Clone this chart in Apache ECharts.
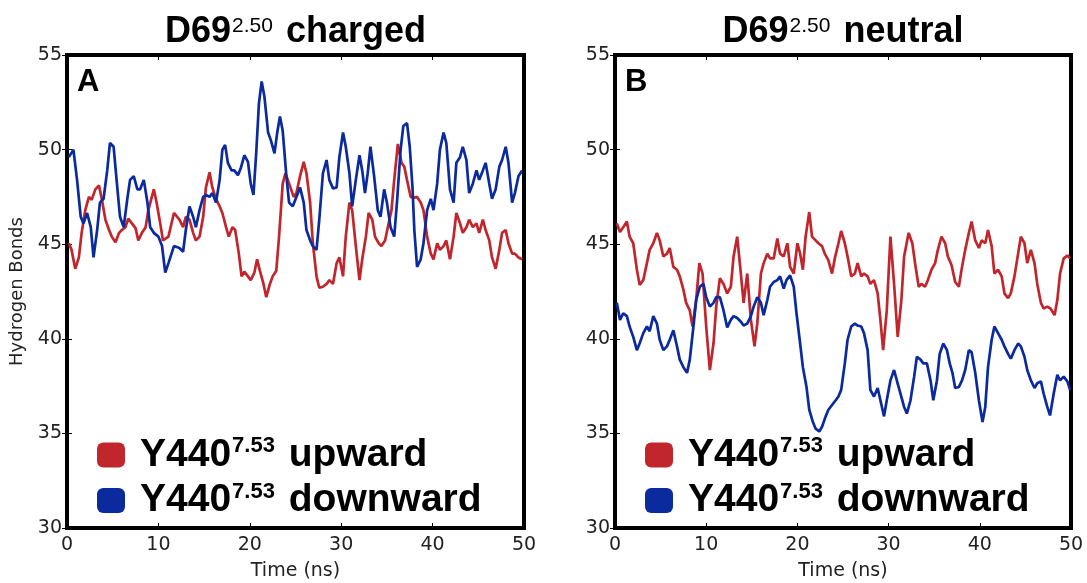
<!DOCTYPE html>
<html>
<head>
<meta charset="utf-8">
<script src="https://cdn.jsdelivr.net/npm/echarts@6/dist/echarts.min.js"></script>
<style>html,body{margin:0;padding:0;background:#fff}#c{width:1087px;height:583px}</style>
</head>
<body>
<div id="c"></div>
<script>
// ---- Data ----
const xTicks = [0, 10, 20, 30, 40, 50];
const yTicks = [30, 35, 40, 45, 50, 55];
const panelTitles = [["D69", "2.50", " charged"], ["D69", "2.50", " neutral"]];
const panelLetters = ["A", "B"];
const seriesNames = ["Y440 upward", "Y440 downward"];
const legendParts = [["Y440", "7.53", " upward"], ["Y440", "7.53", " downward"]];

// Panel A, upward (red)
const tA_up = [0.2,0.5,0.9,1.3,1.6,2.0,2.4,2.7,3.1,3.5,3.8,4.2,4.6,4.9,5.3,5.7,6.0,6.4,6.7,7.1,7.5,7.8,8.2,8.6,8.9,9.5,9.8,10.2,10.5,11.1,11.7,12.3,12.7,13.0,13.4,13.8,14.1,14.5,14.9,15.2,15.6,15.9,16.3,16.7,17.0,17.4,17.7,18.1,18.4,18.8,19.1,19.4,19.8,20.1,20.5,20.8,21.1,21.5,21.8,22.2,22.5,22.9,23.2,23.6,23.9,24.3,24.8,25.1,25.5,25.9,26.2,26.6,26.9,27.3,27.6,28.0,28.4,28.7,29.1,29.5,29.8,30.2,30.5,30.9,31.2,31.6,32.0,32.3,32.7,33.0,33.4,33.7,34.1,34.4,34.8,35.1,35.5,35.8,36.2,36.6,36.9,37.2,37.6,37.9,38.3,38.7,39.0,39.4,39.8,40.1,40.5,40.8,41.2,41.5,41.9,42.3,42.6,43.0,43.3,43.7,44.0,44.4,44.8,45.1,45.5,45.8,46.2,46.5,46.9,47.3,47.6,48.0,48.3,48.7,49.0,49.4,49.8];
const vA_up = [45.05,44.7,43.7,44.3,45.6,46.8,47.5,47.35,47.9,48.1,47.4,46.3,45.75,45.4,45.1,45.6,45.75,45.9,46.35,46.1,45.85,45.2,45.6,45.9,46.8,47.9,47.2,46.1,45.2,45.4,46.65,46.3,45.9,46.45,46.3,45.6,45.2,45.4,46.45,48.0,48.8,48.0,47.4,47.0,46.65,45.9,45.4,45.9,45.75,44.5,43.3,43.55,43.3,43.1,43.5,44.2,43.6,42.9,42.2,42.9,43.3,43.6,45.4,48.2,48.75,48.2,47.5,47.7,48.6,49.35,48.75,47.2,45.05,43.3,42.7,42.75,42.9,43.1,42.9,44.0,44.3,43.3,45.4,47.2,46.8,44.9,43.1,44.2,45.4,46.65,46.3,45.4,45.05,44.9,45.2,45.9,46.8,48.4,50.3,49.3,49.1,48.4,47.5,47.45,47.5,47.2,46.8,45.4,44.5,44.2,45.05,44.7,44.9,45.2,44.2,45.4,46.65,46.1,45.6,45.9,46.3,45.9,46.1,45.6,46.3,45.75,45.2,44.3,43.7,44.7,45.6,45.75,45.05,44.5,44.5,44.3,44.2];

// Panel A, downward (blue)
const tA_down = [0.2,0.7,1.1,1.5,1.8,2.2,2.6,2.9,3.3,3.6,4.0,4.4,4.7,5.1,5.5,5.8,6.2,6.6,6.9,7.3,7.7,8.0,8.4,8.8,9.1,9.5,10.0,10.4,10.75,11.1,11.7,12.3,12.7,13.0,13.4,13.8,14.1,14.5,14.9,15.2,15.6,15.9,16.3,16.7,17.0,17.3,17.6,18.0,18.3,18.7,19.0,19.4,19.8,20.1,20.4,20.7,21.0,21.3,21.6,22.0,22.3,22.7,23.0,23.3,23.6,24.0,24.3,24.7,25.1,25.5,25.9,26.2,26.6,26.9,27.3,27.6,28.0,28.4,28.7,29.1,29.5,29.8,30.2,30.5,30.9,31.2,31.6,32.0,32.3,32.6,32.9,33.2,33.6,34.0,34.3,34.7,35.0,35.4,35.8,36.1,36.5,36.8,37.2,37.5,37.8,38.0,38.3,38.7,39.0,39.4,39.8,40.1,40.5,40.8,41.2,41.5,41.9,42.3,42.6,43.0,43.3,43.7,44.0,44.4,44.8,45.1,45.5,45.8,46.2,46.5,46.9,47.3,47.6,48.0,48.3,48.7,49.0,49.4,49.8];
const vA_down = [49.6,50.0,48.4,46.45,46.1,46.65,45.9,44.3,45.75,47.2,47.4,48.9,50.35,50.15,48.0,46.45,45.9,47.4,48.4,48.6,47.9,47.9,48.4,47.2,45.9,45.6,45.4,44.9,43.5,44.0,44.9,44.8,44.6,45.75,47.0,46.45,45.9,46.8,47.5,47.6,47.5,47.7,47.2,48.4,50.0,50.25,49.3,48.9,48.9,48.65,49.0,49.7,49.35,48.2,47.6,49.8,52.45,53.6,52.8,50.9,50.5,49.8,50.9,51.75,51.0,48.6,47.2,47.0,47.5,48.0,47.2,45.75,45.2,44.9,44.7,46.3,48.75,49.45,48.4,47.95,48.0,49.6,50.9,50.15,48.75,47.0,48.4,49.7,48.9,47.7,48.75,50.15,48.6,46.8,46.45,47.9,47.2,45.9,45.4,47.2,50.0,51.25,51.4,50.15,48.0,45.75,43.8,44.2,45.05,46.8,47.4,46.8,48.2,50.0,50.9,50.35,47.9,47.2,49.3,49.6,50.15,49.45,47.7,48.2,48.9,48.4,48.9,49.3,48.2,47.4,47.9,49.1,49.45,50.15,49.3,47.2,47.7,48.6,48.9];

// Panel B, upward (red)
const tB_up = [0.2,0.55,0.9,1.3,1.6,2.0,2.4,2.7,3.1,3.5,3.8,4.2,4.6,4.9,5.3,5.7,6.0,6.4,6.8,7.1,7.5,7.8,8.2,8.5,8.9,9.25,9.6,10.0,10.4,10.8,11.1,11.5,11.9,12.3,12.7,13.0,13.4,13.8,14.1,14.5,14.9,15.3,15.6,16.0,16.3,16.7,17.0,17.4,17.8,18.1,18.5,18.9,19.2,19.6,20.0,20.3,20.6,20.9,21.3,21.6,22.0,22.3,22.7,23.0,23.4,23.8,24.1,24.5,24.8,25.2,25.5,25.9,26.3,26.6,27.0,27.3,27.7,28.0,28.4,28.8,29.1,29.4,29.8,30.2,30.6,31.0,31.4,31.7,32.2,32.6,32.9,33.3,33.6,34.0,34.3,34.7,35.1,35.4,35.8,36.2,36.5,36.9,37.3,37.7,38.05,38.4,38.8,39.1,39.5,39.9,40.2,40.6,40.9,41.3,41.6,42.0,42.4,42.7,43.1,43.4,43.8,44.2,44.5,44.9,45.2,45.6,46.0,46.3,46.7,47.0,47.4,47.75,48.2,48.5,48.8,49.2,49.6,49.9];
const vB_up = [46.1,45.65,45.9,46.2,45.4,45.05,43.65,42.85,43.1,44.0,44.7,45.05,45.6,45.2,44.35,44.5,44.8,43.8,43.65,43.3,42.6,41.9,41.5,40.65,42.05,44.0,43.45,40.65,38.35,39.75,41.7,43.2,42.9,42.4,42.75,44.35,45.4,43.45,41.9,43.45,41.0,39.6,40.8,43.45,44.0,44.5,44.25,44.25,45.3,44.5,44.35,45.05,43.8,43.45,45.05,44.5,43.65,45.4,46.7,45.4,45.2,45.05,44.9,44.5,44.15,43.45,44.25,45.05,45.7,45.05,44.35,43.3,43.45,44.0,43.3,43.45,43.3,42.9,43.1,42.4,41.0,39.4,41.5,45.4,42.9,40.1,42.05,44.35,45.6,45.05,44.0,42.75,42.9,42.75,43.1,43.65,44.0,44.7,45.4,45.05,44.35,43.9,43.0,42.75,43.8,44.7,45.6,46.2,45.2,44.8,45.2,45.05,45.75,44.9,43.45,43.65,43.3,42.4,42.15,42.4,43.3,44.5,45.4,45.05,44.0,44.7,44.0,42.9,41.9,41.6,41.7,41.6,41.25,42.05,43.45,44.25,44.4,44.25];

// Panel B, downward (blue)
const tB_down = [0.2,0.55,0.9,1.3,1.6,2.0,2.4,2.7,3.1,3.5,3.8,4.2,4.6,4.9,5.3,5.7,6.0,6.4,6.8,7.1,7.5,7.9,8.2,8.6,8.9,9.3,9.7,10.0,10.4,10.8,11.1,11.5,11.9,12.3,12.7,13.0,13.4,13.8,14.1,14.5,14.9,15.2,15.6,16.0,16.3,16.7,17.0,17.4,17.8,18.1,18.5,18.8,19.2,19.6,19.9,20.3,20.6,21.0,21.3,21.7,22.0,22.4,22.7,23.1,23.4,23.8,24.2,24.5,24.8,25.2,25.5,25.9,26.3,26.6,27.0,27.3,27.7,28.0,28.4,28.8,29.1,29.5,29.8,30.2,30.6,30.9,31.3,31.7,32.0,32.4,32.8,33.1,33.5,33.8,34.2,34.6,34.9,35.3,35.6,36.0,36.4,36.7,37.0,37.3,37.7,38.05,38.4,38.8,39.1,39.5,39.9,40.3,40.6,40.9,41.3,41.6,42.0,42.4,42.7,43.1,43.4,43.8,44.2,44.5,44.9,45.2,45.6,46.0,46.3,46.7,47.0,47.4,47.7,48.1,48.5,48.8,49.2,49.6,49.9];
const vB_down = [41.9,41.0,41.35,41.2,40.65,40.1,39.4,39.75,40.3,40.65,40.4,41.2,40.8,39.95,39.4,39.6,39.95,40.45,39.6,38.9,38.5,38.2,38.9,40.65,42.05,42.75,42.9,42.2,41.7,41.9,42.2,42.2,41.5,40.6,41.0,41.2,41.1,40.9,40.7,40.8,41.2,41.7,42.2,41.9,41.25,42.05,42.75,43.0,43.1,43.3,42.65,43.1,43.35,42.75,41.35,39.75,38.5,37.45,36.25,35.6,35.25,35.1,35.35,35.9,36.25,36.5,36.75,36.95,37.3,38.7,39.95,40.65,40.8,40.7,40.65,40.3,39.4,37.3,36.95,37.4,36.75,35.9,36.75,37.8,38.35,37.8,37.1,36.4,36.05,36.75,38.0,39.05,38.9,38.7,38.7,37.8,36.75,37.8,39.2,39.75,39.4,38.7,38.2,37.4,37.45,37.8,38.35,39.4,39.3,38.2,36.75,35.6,36.4,38.5,39.95,40.65,40.3,39.95,39.6,39.2,38.95,39.4,39.75,39.6,39.05,38.35,37.8,37.4,37.65,37.75,37.1,36.4,35.95,37.1,38.1,37.8,38.0,37.75,37.3];

// ---- Styling / layout ----
const RED = '#C1262C';
const BLUE = '#0A2A9E';
const pair = (t, v) => t.map((x, i) => [x, v[i]]);
const grids = [
  {left: 67, width: 457, top: 55, height: 473},
  {left: 615, width: 456, top: 55, height: 473}
];
const tickFont = 'DejaVu Sans';
const titleFont = 'Liberation Sans';

const chart = echarts.init(document.getElementById('c'), null, {renderer: 'canvas'});

const xAxes = [], yAxes = [];
grids.forEach((g, i) => {
  const base = {
    type: 'value', gridIndex: i, min: xTicks[0], max: xTicks[xTicks.length - 1],
    interval: xTicks[1] - xTicks[0],
    axisLine: {show: false}, splitLine: {show: false},
    axisTick: {show: true, inside: true, length: 5, lineStyle: {color: '#000', width: 1}}
  };
  xAxes.push(Object.assign({}, base, {
    position: 'bottom',
    name: 'Time (ns)', nameLocation: 'middle', nameGap: 34,
    nameTextStyle: {fontFamily: tickFont, fontSize: 19, color: '#222'},
    axisLabel: {fontFamily: tickFont, fontSize: 19, color: '#222', margin: 8}
  }));
  xAxes.push(Object.assign({}, base, {position: 'top', axisLabel: {show: false}}));
  const ybase = {
    type: 'value', gridIndex: i, min: yTicks[0], max: yTicks[yTicks.length - 1],
    interval: yTicks[1] - yTicks[0],
    axisLine: {show: false}, splitLine: {show: false},
    axisTick: {show: true, inside: true, length: 5, lineStyle: {color: '#000', width: 1}}
  };
  yAxes.push(Object.assign({}, ybase, {
    position: 'left',
    name: i === 0 ? 'Hydrogen Bonds' : '', nameLocation: 'middle', nameGap: 41,
    nameTextStyle: {fontFamily: tickFont, fontSize: 18, color: '#222'},
    axisLabel: {fontFamily: tickFont, fontSize: 19, color: '#222', margin: 5}
  }));
  yAxes.push(Object.assign({}, ybase, {position: 'right', axisLabel: {show: false}}));
});

const dataSets = [
  [pair(tA_up, vA_up), pair(tA_down, vA_down)],
  [pair(tB_up, vB_up), pair(tB_down, vB_down)]
];
const colors = [RED, BLUE];
const series = [];
dataSets.forEach((pd, gi) => {
  pd.forEach((d, si) => {
    series.push({
      type: 'line', name: seriesNames[si], data: d,
      xAxisIndex: gi * 2, yAxisIndex: gi * 2,
      showSymbol: false, symbol: 'none', smooth: false,
      lineStyle: {color: colors[si], width: 2.7},
      itemStyle: {color: colors[si]},
      animation: false, z: 2
    });
  });
});

const legendRich = {
  a: {fontFamily: titleFont, fontWeight: 'bold', fontSize: 39, color: '#000', lineHeight: 40},
  b: {fontFamily: titleFont, fontWeight: 'bold', fontSize: 22, color: '#000', lineHeight: 40, verticalAlign: 'top', padding: [0, 3, 0, 1]}
};
const legends = grids.map((g, i) => ({
  orient: 'vertical', left: g.left + 30, top: 435, padding: 0, itemGap: 6,
  itemWidth: 28, itemHeight: 25, icon: 'roundRect',
  selectedMode: false,
  data: seriesNames,
  formatter: name => {
    const p = legendParts[seriesNames.indexOf(name)];
    return '{a|' + p[0] + '}{b|' + p[1] + '}{a|' + p[2] + '}';
  },
  textStyle: {rich: legendRich, padding: [0, 0, 0, 10]}
}));

const graphics = [];
grids.forEach((g, i) => {
  const p = panelTitles[i];
  graphics.push({
    type: 'text', x: g.left + g.width / 2, y: 12, z: 10,
    style: {
      text: '{a|' + p[0] + '}{b|' + p[1] + '}{a|' + p[2] + '}',
      align: 'center', verticalAlign: 'top',
      rich: {
        a: {fontFamily: titleFont, fontWeight: 'bold', fontSize: 36, fill: '#000', lineHeight: 40},
        b: {fontFamily: titleFont, fontWeight: 'normal', fontSize: 21, fill: '#000', lineHeight: 40, verticalAlign: 'top', padding: [4, 3, 0, 1]}
      }
    }
  });
  graphics.push({
    type: 'text', x: g.left + 10, y: 67, z: 10,
    style: {text: panelLetters[i], fontFamily: titleFont, fontWeight: 'bold', fontSize: 31, fill: '#000'}
  });
});

chart.setOption({
  animation: false,
  backgroundColor: '#fff',
  grid: grids.map(g => Object.assign({show: true, borderColor: '#000', borderWidth: 4, backgroundColor: 'transparent', outerBoundsMode: 'none', containLabel: false}, g)),
  xAxis: xAxes,
  yAxis: yAxes,
  legend: legends,
  series: series,
  graphic: graphics
});
</script>
</body>
</html>
